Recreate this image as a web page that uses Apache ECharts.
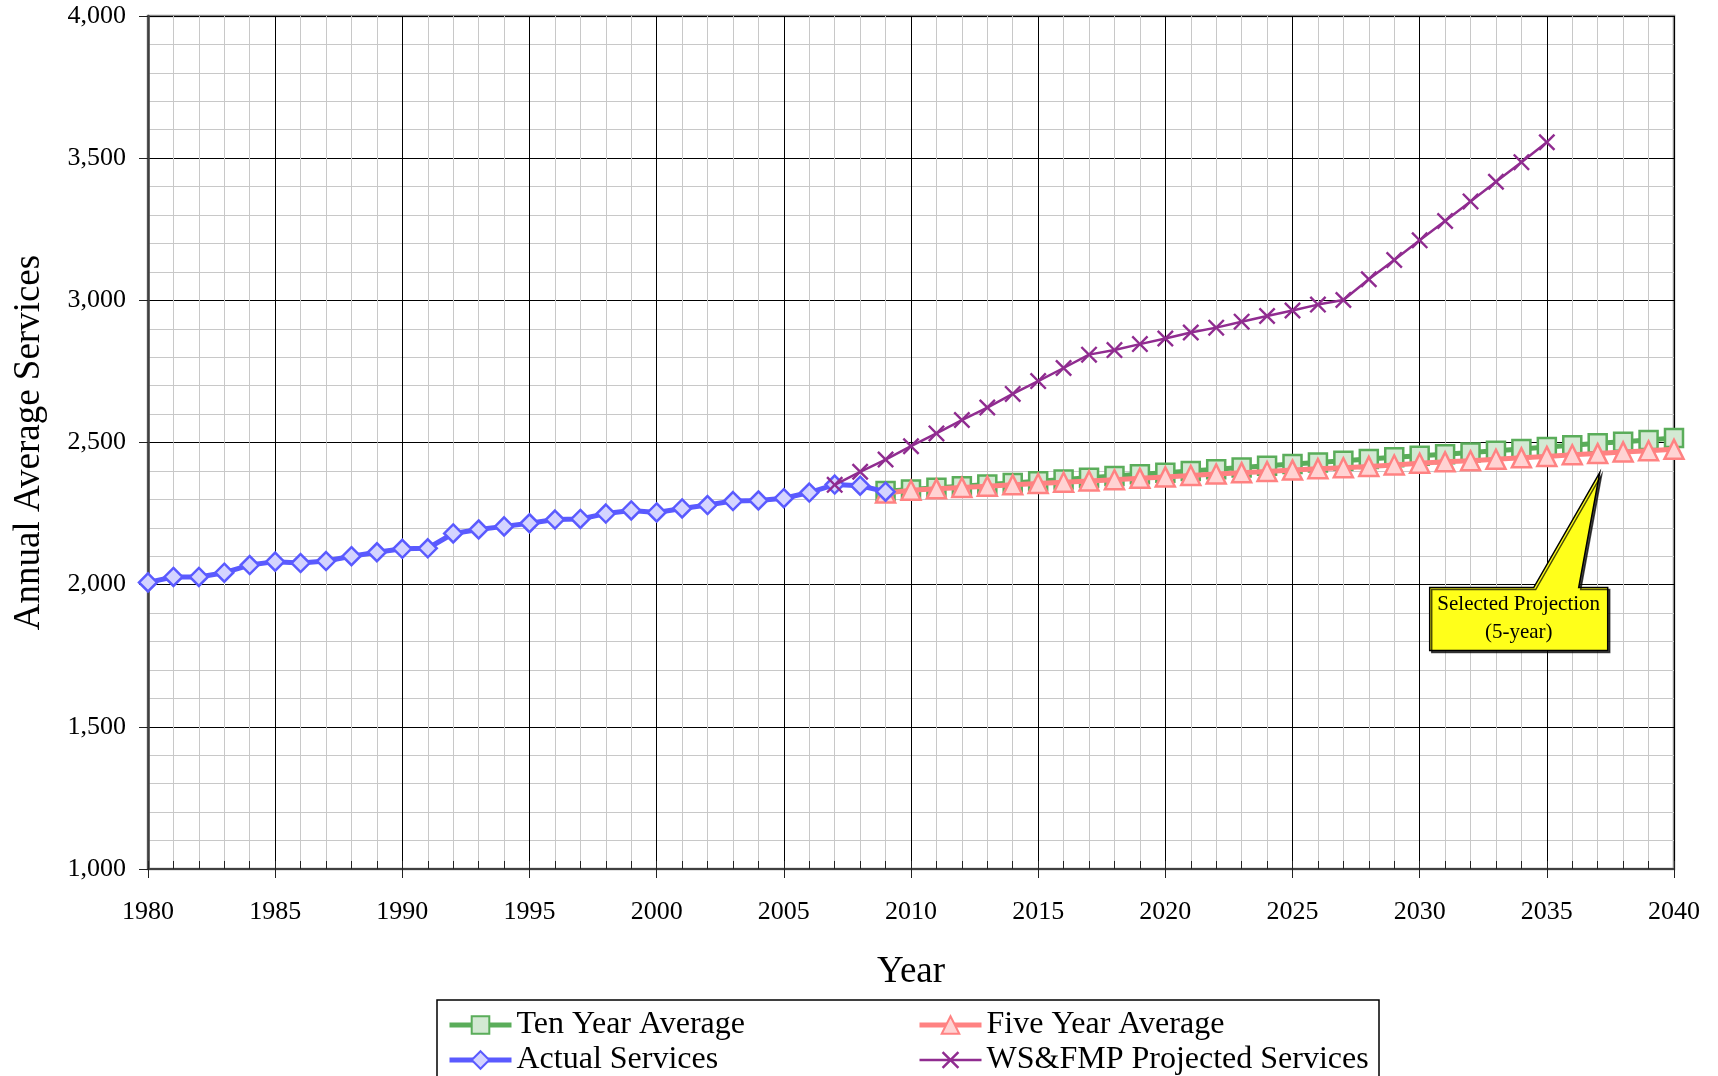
<!DOCTYPE html>
<html><head><meta charset="utf-8">
<script src="https://cdn.jsdelivr.net/npm/echarts@6/dist/echarts.min.js"></script>
<style>html,body{margin:0;padding:0;background:#fff}#c{width:1718px;height:1076px}</style>
</head><body><div id="c"></div>
<script>
// ---- data ----
const actualYears = [1980,1981,1982,1983,1984,1985,1986,1987,1988,1989,1990,1991,1992,1993,1994,1995,1996,1997,1998,1999,2000,2001,2002,2003,2004,2005,2006,2007,2008,2009];
const actualServices = [2008,2027,2027,2042,2069,2081,2076,2083,2100,2114,2126,2128,2180,2194,2205,2216,2229,2231,2250,2261,2254,2268,2280,2294,2296,2304,2324,2352,2348,2327];

const wsYears = [2007,2008,2009,2010,2011,2012,2013,2014,2015,2016,2017,2018,2019,2020,2021,2022,2023,2024,2025,2026,2027,2028,2029,2030,2031,2032,2033,2034,2035];
const wsProjected = [2351,2397,2440,2487,2532,2579,2623,2671,2716,2762,2809,2825,2846,2866,2887,2904,2925,2945,2964,2985,3001,3074,3142,3211,3279,3348,3417,3486,3556];

const projYears = [2009,2010,2011,2012,2013,2014,2015,2016,2017,2018,2019,2020,2021,2022,2023,2024,2025,2026,2027,2028,2029,2030,2031,2032,2033,2034,2035,2036,2037,2038,2039,2040];
const tenYearAvg = [2329,2335,2341,2346,2352,2358,2364,2370,2376,2382,2388,2394,2400,2406,2412,2418,2424,2430,2436,2442,2448,2453,2459,2465,2471,2477,2484,2490,2497,2503,2509,2516];
const fiveYearAvg = [2322,2332,2337,2342,2346,2351,2356,2360,2365,2369,2374,2379,2384,2389,2394,2398,2403,2408,2411,2416,2421,2427,2432,2436,2441,2446,2451,2457,2461,2467,2471,2476];

const seriesNames = ['Ten Year Average','Five Year Average','Actual Services','WS&FMP Projected Services'];
const calloutText = 'Selected Projection\n(5-year)';
const calloutYear = 2037;

// ---- chart ----
const FONT = "'Liberation Serif','Times New Roman',serif";
const pairs = (xs, ys) => xs.map((x, i) => [x, ys[i]]);
const X_PATH = 'path://M0,1 L1,0 L5,4 L9,0 L10,1 L6,5 L10,9 L9,10 L5,6 L1,10 L0,9 L4,5 Z';

const chart = echarts.init(document.getElementById('c'), null, {renderer: 'canvas'});

const legendText = {fontFamily: FONT, fontSize: 32, color: '#000', lineHeight: 32};
const legendBase = {top: 1009, height: 120, orient: 'vertical', padding: 0, itemWidth: 62, itemHeight: 22, itemGap: 3, textStyle: legendText};

const option = {
  animation: false,
  backgroundColor: '#fff',
  textStyle: {fontFamily: FONT},
  grid: {left: 148, right: 44, top: 16, bottom: 207, show: true, borderColor: '#8a8a8a', borderWidth: 2.5},
  xAxis: [{
    type: 'value', min: 1980, max: 2040, interval: 5,
    axisLine: {show: true, onZero: false, lineStyle: {color: '#404040', width: 2}},
    axisTick: {show: true, inside: false, length: 9, lineStyle: {color: '#222', width: 1}},
    minorTick: {show: false, splitNumber: 5},
    minorSplitLine: {show: true, lineStyle: {color: '#c8c8c8', width: 1}},
    splitLine: {show: true, lineStyle: {color: '#000', width: 1}},
    axisLabel: {fontFamily: FONT, fontSize: 26, color: '#000', margin: 30, formatter: v => String(v)},
    name: 'Year', nameLocation: 'middle', nameGap: 85,
    nameTextStyle: {fontFamily: FONT, fontSize: 37, color: '#000'}
  }, {
    type: 'value', min: 1980, max: 2040, interval: 1, position: 'bottom',
    axisLine: {show: false}, axisLabel: {show: false}, splitLine: {show: false},
    axisTick: {show: true, inside: true, length: 8, lineStyle: {color: '#222', width: 1}}
  }],
  yAxis: {
    type: 'value', min: 1000, max: 4000, interval: 500,
    axisLine: {show: true, onZero: false, lineStyle: {color: '#404040', width: 2.5}},
    axisTick: {show: true, length: 9, lineStyle: {color: '#222', width: 1}},
    minorTick: {show: false, splitNumber: 5},
    minorSplitLine: {show: true, lineStyle: {color: '#c8c8c8', width: 1}},
    splitLine: {show: true, lineStyle: {color: '#000', width: 1}},
    axisLabel: {fontFamily: FONT, fontSize: 26, color: '#000', margin: 22},
    name: 'Annual Average Services', nameLocation: 'middle', nameGap: 100, nameRotate: 90,
    nameTextStyle: {fontFamily: FONT, fontSize: 37, color: '#000'}
  },
  legend: [Object.assign({left: 447, data: [
      {name: seriesNames[0], lineStyle: {width: 5}},
      {name: seriesNames[2], lineStyle: {width: 5}}]}, legendBase),
    Object.assign({left: 917, data: [
      {name: seriesNames[1], lineStyle: {width: 5}},
      {name: seriesNames[3], lineStyle: {width: 2.5}}]}, legendBase)],
  series: [{
    name: seriesNames[0], type: 'line', data: pairs(projYears, tenYearAvg),
    symbol: 'rect', symbolSize: 18, showAllSymbol: true,
    lineStyle: {color: '#5aad5a', width: 5},
    itemStyle: {color: '#d3e9d3', borderColor: '#5aad5a', borderWidth: 2.5}, z: 2
  }, {
    name: seriesNames[1], type: 'line', data: pairs(projYears, fiveYearAvg),
    symbol: 'triangle', symbolSize: 19, showAllSymbol: true,
    lineStyle: {color: '#ff8282', width: 5},
    itemStyle: {color: '#ffd3d3', borderColor: '#ff8282', borderWidth: 2.5}, z: 3
  }, {
    name: seriesNames[2], type: 'line', data: pairs(actualYears, actualServices),
    symbol: 'diamond', symbolSize: 18, showAllSymbol: true,
    lineStyle: {color: '#5a5aff', width: 5},
    itemStyle: {color: '#d4d4ff', borderColor: '#5a5aff', borderWidth: 2.5}, z: 4
  }, {
    name: seriesNames[3], type: 'line', data: pairs(wsYears, wsProjected),
    symbol: X_PATH, symbolSize: 17, showAllSymbol: true,
    lineStyle: {color: '#902c90', width: 2.5},
    itemStyle: {color: '#902c90', borderWidth: 0}, z: 5
  }]
};
chart.setOption(option);

// callout anchored to the 5-year projection point
const idx = projYears.indexOf(calloutYear);
const p = chart.convertToPixel({xAxisIndex: 0, yAxisIndex: 0}, [calloutYear, fiveYearAvg[idx]]);
const tip = [p[0] + 2, p[1] + 19];
const L = tip[0] - 170, R = tip[0] + 8, T = tip[1] + 115, B = tip[1] + 178;
chart.setOption({
  graphic: [{
    type: 'polygon', z: 100,
    shape: {points: [[L, T], [tip[0] - 66, T], tip, [tip[0] - 21, T], [R, T], [R, B], [L, B]]},
    style: {fill: '#ffff1a', stroke: '#000', lineWidth: 1.5, shadowColor: 'rgba(0,0,0,0.7)', shadowOffsetX: 2, shadowOffsetY: 2}
  }, {
    type: 'text', z: 101, x: (L + R) / 2, y: (T + B) / 2 - 1,
    style: {text: calloutText, fontFamily: FONT, fontSize: 21, lineHeight: 28, fill: '#000', align: 'center', verticalAlign: 'middle'}
  }, {
    type: 'rect', z: 50,
    shape: {x: 437, y: 1000, width: 942, height: 110},
    style: {fill: 'none', stroke: '#000', lineWidth: 1.5}
  }]
});
</script>
</body></html>
